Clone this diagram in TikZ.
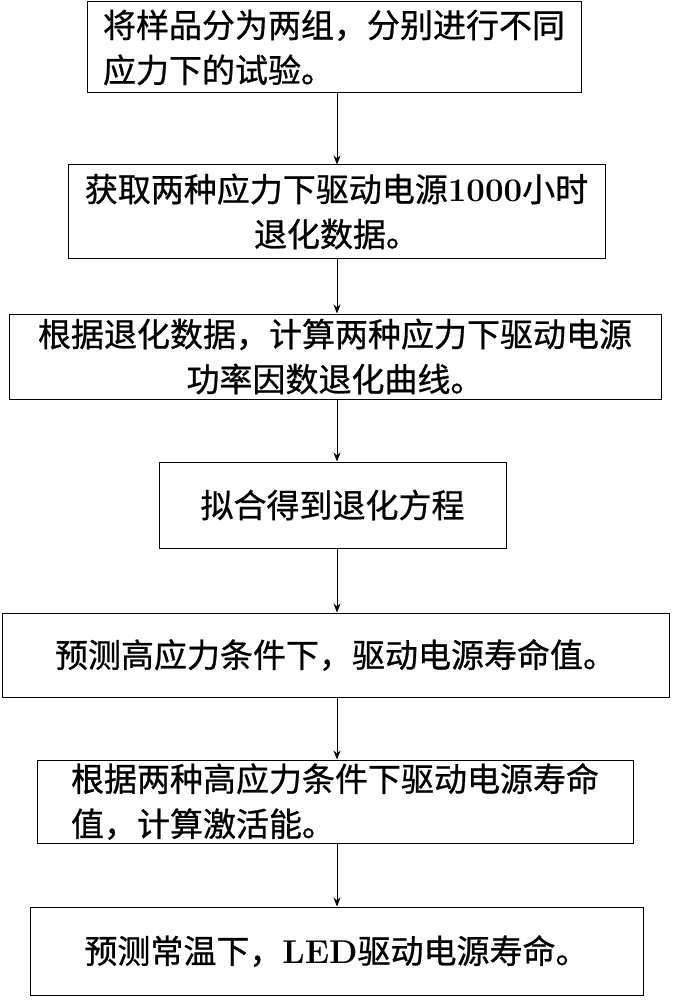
\documentclass[tikz,border=0pt]{standalone}
\usepackage{fontspec}
\newfontfamily\cjk[FakeBold=0.8]{Noto Sans CJK SC}
\usetikzlibrary{arrows.meta}
\begin{document}
\begin{tikzpicture}[x=1pt,y=-1pt,
  bx/.style={draw,line width=1pt,inner sep=0pt,align=center,font=\cjk\fontsize{33}{45}\selectfont},
  ar/.style={-{Stealth[length=9pt,width=7pt]},line width=0.8pt}]
\useasboundingbox (0,0) rectangle (672,1000);
\node[bx,align=left,minimum width=494pt,minimum height=91pt] (b1) at (334,47.5) {将样品分为两组，分别进行不同\\应力下的试验。};
\node[bx,minimum width=537pt,minimum height=93pt] (b2) at (336.5,211.5) {获取两种应力下驱动电源\textbf{\rmfamily 1000}小时\\退化数据。};
\node[bx,minimum width=652pt,minimum height=85pt] (b3) at (335,356.5) {根据退化数据，计算两种应力下驱动电源\\功率因数退化曲线。};
\node[bx,minimum width=347pt,minimum height=86pt] (b4) at (332.5,505) {拟合得到退化方程};
\node[bx,minimum width=667pt,minimum height=84pt] (b5) at (335.5,655) {预测高应力条件下，驱动电源寿命值。};
\node[bx,align=left,minimum width=596pt,minimum height=83pt] (b6) at (335,801.5) {根据两种高应力条件下驱动电源寿命\\值，计算激活能。};
\node[bx,minimum width=613pt,minimum height=88pt] (b7) at (336.5,951) {预测常温下，\textbf{\rmfamily LED}驱动电源寿命。};
\draw[ar] (b1.south -| 337,0) -- (b2.north -| 337,0);
\draw[ar] (b2.south -| 337,0) -- (b3.north -| 337,0);
\draw[ar] (b3.south -| 337,0) -- (b4.north -| 337,0);
\draw[ar] (b4.south -| 337,0) -- (b5.north -| 337,0);
\draw[ar] (b5.south -| 337,0) -- (b6.north -| 337,0);
\draw[ar] (b6.south -| 337,0) -- (b7.north -| 337,0);
\end{tikzpicture}
\end{document}
